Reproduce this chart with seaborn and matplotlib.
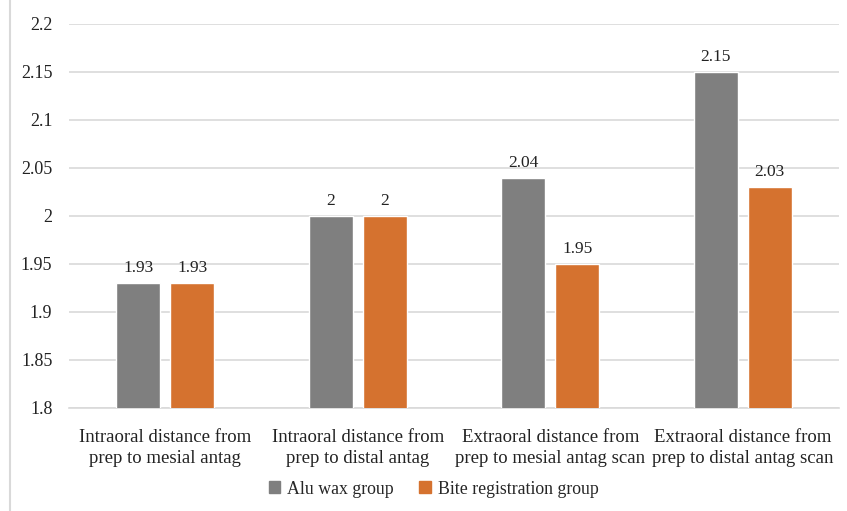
import matplotlib
matplotlib.use("Agg")
import matplotlib.pyplot as plt
from matplotlib.lines import Line2D
import seaborn as sns
import pandas as pd

categories = [
    "Intraoral distance from\nprep to mesial antag",
    "Intraoral distance from\nprep to distal antag",
    "Extraoral distance from\nprep to mesial antag scan",
    "Extraoral distance from\nprep to distal antag scan",
]
alu_wax = [1.93, 2.00, 2.04, 2.15]
bite_registration = [1.93, 2.00, 1.95, 2.03]
series_names = ["Alu wax group", "Bite registration group"]
y_ticks = [1.8, 1.85, 1.9, 1.95, 2.0, 2.05, 2.1, 2.15, 2.2]
y_tick_labels = ["1.8", "1.85", "1.9", "1.95", "2", "2.05", "2.1", "2.15", "2.2"]

df = pd.DataFrame({
    "category": categories * 2,
    "value": alu_wax + bite_registration,
    "group": [series_names[0]] * 4 + [series_names[1]] * 4,
})

sns.set_style("white")
plt.rcParams["font.family"] = ["Liberation Serif", "DejaVu Serif"]

fig = plt.figure(figsize=(8.47, 5.11), dpi=100)
ax = fig.add_axes([0.0815, 0.2016, 0.909, 0.7515])

palette = {series_names[0]: "#7f7f7f", series_names[1]: "#d5722f"}
sns.barplot(data=df, x="category", y="value", hue="group", order=categories,
            hue_order=series_names, palette=palette, width=0.56, gap=0.18,
            saturation=1, ax=ax, legend=False, zorder=3)

ax.set_ylim(1.8, 2.2)
ax.set_yticks(y_ticks)
ax.set_yticklabels(y_tick_labels, fontsize=13, color="#222222")
ax.set_xlim(-0.5, len(categories) - 0.5)
ax.set_xlabel("")
ax.set_ylabel("")
ax.tick_params(axis="x", labelsize=13.5, colors="#222222", length=0, pad=15)
ax.tick_params(axis="y", length=0, pad=12)
for lbl in ax.get_xticklabels():
    lbl.set_linespacing(1.35)
ax.grid(axis="y", color="#d9d9d9", linewidth=1.2, zorder=0)
for s in ["top", "right", "left"]:
    ax.spines[s].set_visible(False)
ax.spines["bottom"].set_color("#d9d9d9")
ax.spines["bottom"].set_linewidth(1.2)

for container in ax.containers:
    ax.bar_label(container, labels=[f"{v:g}" for v in container.datavalues],
                 padding=5, fontsize=12.5, color="#222222")

handles = [plt.Rectangle((0, 0), 1, 1, color=palette[n]) for n in series_names]
fig.legend(handles, series_names, loc="center", bbox_to_anchor=(0.512, 0.043),
           ncol=2, frameon=False, fontsize=12.8, handlelength=0.65, handleheight=0.65,
           handletextpad=0.4, columnspacing=1.4)

fig.add_artist(Line2D([0.012, 0.012], [0, 1], transform=fig.transFigure,
                      color="#d9d9d9", linewidth=1.5))

fig.savefig("out.png", dpi=100)
